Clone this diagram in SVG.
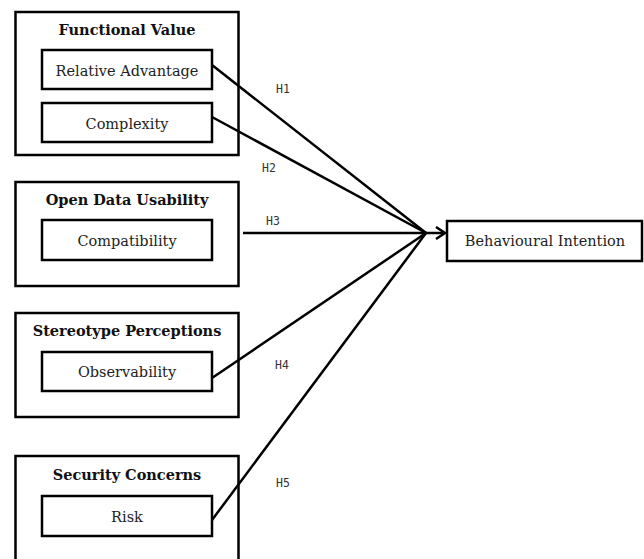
<svg xmlns="http://www.w3.org/2000/svg" width="644" height="559" viewBox="0 0 644 559">
<defs>
<style>
.box{fill:#fff;stroke:#000;stroke-width:2.5}
.t{font-family:"DejaVu Serif","Liberation Serif",serif;font-size:14.5px;fill:#222;text-anchor:middle}
.b{font-weight:bold;fill:#111}
.h{font-family:"DejaVu Sans Mono","Liberation Mono",monospace;font-size:11.5px;fill:#333}
.ln{stroke:#000;stroke-width:2.5;fill:none}
</style>
<marker id="arr" markerWidth="14" markerHeight="14" refX="11" refY="7" orient="auto" markerUnits="userSpaceOnUse">
<path d="M2,1 L11,7 L2,13" fill="none" stroke="#000" stroke-width="2.5"/>
</marker>
</defs>
<rect width="644" height="559" fill="#fff"/>
<g id="functional-value">
<rect class="box" x="15.5" y="12" width="223" height="143"/>
<text class="t b" x="127" y="35">Functional Value</text>
</g>
<g id="relative-advantage">
<rect class="box" x="42" y="50" width="170" height="39"/>
<text class="t" x="127" y="75.5">Relative Advantage</text>
</g>
<g id="complexity">
<rect class="box" x="42" y="103" width="170" height="39"/>
<text class="t" x="127" y="128.5">Complexity</text>
</g>
<g id="open-data-usability">
<rect class="box" x="15.5" y="182" width="223" height="104"/>
<text class="t b" x="127" y="205">Open Data Usability</text>
</g>
<g id="compatibility">
<rect class="box" x="42" y="220" width="170" height="40"/>
<text class="t" x="127" y="245.5">Compatibility</text>
</g>
<g id="stereotype-perceptions">
<rect class="box" x="15.5" y="313" width="223" height="104"/>
<text class="t b" x="127" y="336">Stereotype Perceptions</text>
</g>
<g id="observability">
<rect class="box" x="42" y="352" width="170" height="39"/>
<text class="t" x="127" y="376.5">Observability</text>
</g>
<g id="security-concerns">
<rect class="box" x="15.5" y="456" width="223" height="110"/>
<text class="t b" x="127" y="480">Security Concerns</text>
</g>
<g id="risk">
<rect class="box" x="42" y="496" width="170" height="40"/>
<text class="t" x="127" y="521.5">Risk</text>
</g>
<g id="behavioural-intention">
<rect class="box" x="447" y="221" width="195" height="40"/>
<text class="t" x="545" y="245.5">Behavioural Intention</text>
</g>
<g id="connectors">
<line class="ln" x1="212" y1="65" x2="426" y2="233"/>
<line class="ln" x1="212" y1="117" x2="426" y2="233"/>
<line class="ln" x1="243" y1="233" x2="426" y2="233"/>
<line class="ln" x1="212" y1="378" x2="426" y2="233"/>
<line class="ln" x1="212" y1="520" x2="426" y2="233"/>
<line class="ln" x1="426" y1="233" x2="445" y2="233" marker-end="url(#arr)"/>
<text class="h" x="276" y="93">H1</text>
<text class="h" x="262" y="172">H2</text>
<text class="h" x="266" y="225">H3</text>
<text class="h" x="275" y="369">H4</text>
<text class="h" x="276" y="487">H5</text>
</g>
</svg>
